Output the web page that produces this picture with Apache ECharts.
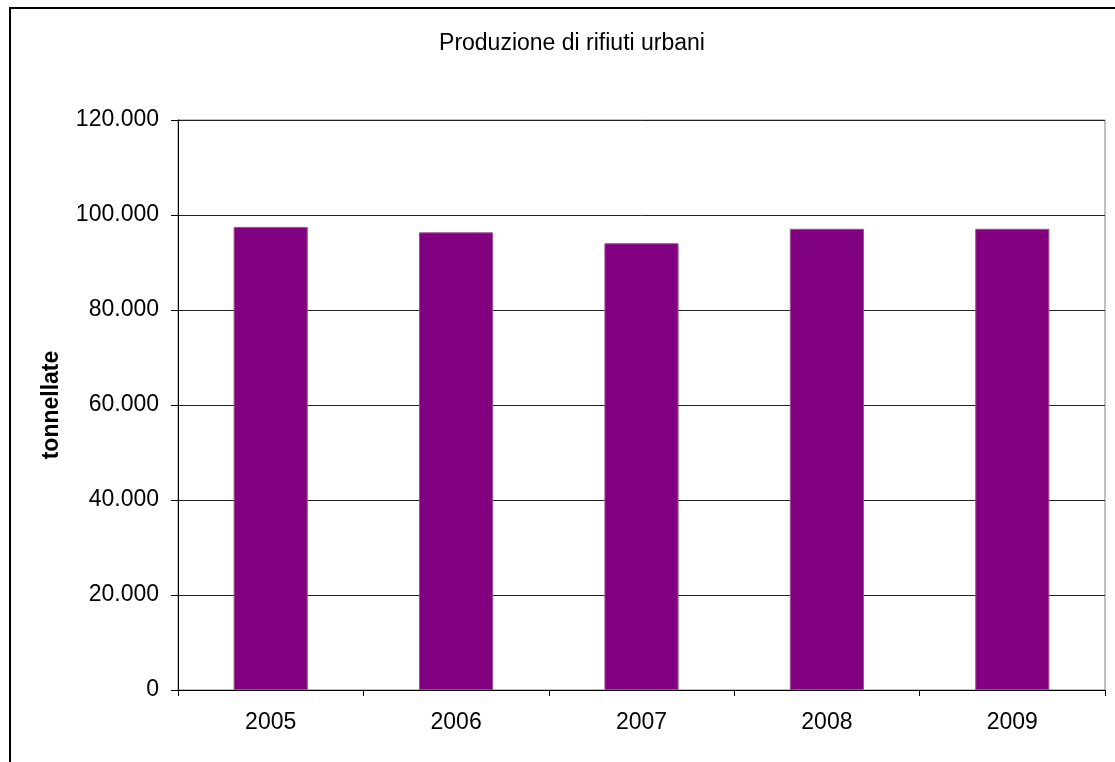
<!DOCTYPE html>
<html><head><meta charset="utf-8">
<script src="https://cdn.jsdelivr.net/npm/echarts@6/dist/echarts.min.js"></script>
<style>html,body{margin:0;padding:0;background:#fff}#c{width:1115px;height:762px}</style>
</head><body><div id="c"></div>
<script>
const categories = ['2005','2006','2007','2008','2009'];
const values = [97500, 96350, 94050, 97100, 97100];
const titleText = 'Produzione di rifiuti urbani';
const yName = 'tonnellate';

function fmt(v){ return String(v).replace(/\B(?=(\d{3})+(?!\d))/g,'.'); }
const FF = 'Liberation Sans, Arial, sans-serif';

const chart = echarts.init(document.getElementById('c'));
chart.setOption({
  animation:false,
  backgroundColor:'#fff',
  textStyle:{fontFamily:FF},
  title:{text:titleText,left:567,top:27,textAlign:'center',
    textStyle:{fontSize:23,fontWeight:'normal',color:'#000',fontFamily:FF}},
  graphic:[{type:'rect',shape:{x:10,y:8,width:1300,height:900},
    style:{fill:'none',stroke:'#000',lineWidth:2},silent:true,z:-1}],
  grid:{left:178,right:10,top:120,bottom:72,show:true,borderColor:'#808080',borderWidth:1,backgroundColor:'#fff'},
  xAxis:{type:'category',data:categories,
    axisLine:{lineStyle:{color:'#000',width:1}},
    axisTick:{show:true,length:6,lineStyle:{color:'#000'}},
    axisLabel:{fontSize:23,color:'#000',margin:21,fontFamily:FF}},
  yAxis:{type:'value',min:0,max:120000,interval:20000,
    name:yName,nameLocation:'middle',nameGap:115,
    nameTextStyle:{fontSize:23,fontWeight:'bold',color:'#000',fontFamily:FF},
    axisLine:{show:true,lineStyle:{color:'#000',width:1}},
    axisTick:{show:true,length:7,lineStyle:{color:'#000'}},
    splitLine:{lineStyle:{color:'#222',width:1}},
    axisLabel:{fontSize:23,color:'#000',margin:19,formatter:fmt,fontFamily:FF}},
  series:[{type:'bar',data:values,barWidth:'40%',
    itemStyle:{color:'#800080',borderColor:'#a05090',borderWidth:1}}]
});
</script></body></html>
